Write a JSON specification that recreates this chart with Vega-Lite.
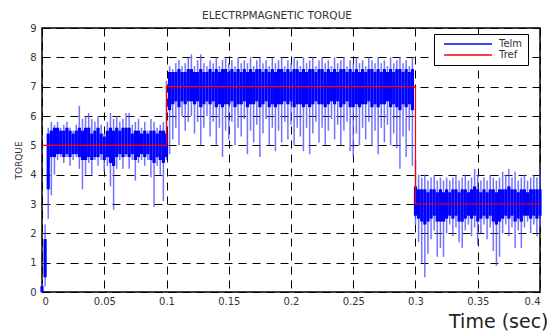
{
  "$schema": "https://vega.github.io/schema/vega-lite/v6.json",
  "width": 498,
  "height": 264,
  "autosize": "none",
  "padding": {"left": 42, "top": 28, "right": 10, "bottom": 39},
  "background": "white",
  "title": {"text": "ELECTRPMAGNETIC TORQUE", "fontSize": 10.5, "font": "DejaVu Sans", "fontWeight": "normal", "color": "#333333", "offset": 2, "anchor": "middle", "dx": -14},
  "config": {
    "view": {"stroke": "black", "strokeWidth": 1.5},
    "axis": {"labelFont": "DejaVu Sans", "labelFontSize": 10, "labelColor": "#333333", "labelOverlap": false, "ticks": false, "domain": false, "grid": true, "gridColor": "black", "gridDash": [8, 6], "gridWidth": 1, "gridOpacity": 1, "titleFontWeight": "normal", "titleColor": "#222222"},
    "legend": {"orient": "none", "legendX": 392, "legendY": 6, "strokeColor": "black", "fillColor": "white", "padding": 5, "labelFont": "DejaVu Sans", "labelFontSize": 10, "labelColor": "#333333", "symbolType": "M0,0H16", "symbolSize": 36, "symbolStrokeWidth": 1.5, "labelOffset": 50, "rowPadding": 1, "title": null}
  },
  "datasets": {
    "telm": [
      {"t":0,"lo":0,"hi":0.3,"clo":0,"chi":0.2},
      {"t":0.0025,"lo":0.2,"hi":2.3,"clo":0.5,"chi":1.8},
      {"t":0.005,"lo":2.5,"hi":5.6,"clo":3.5,"chi":5.4},
      {"t":0.0075,"lo":3.3,"hi":5.8,"clo":4.6,"chi":5.5},
      {"t":0.01,"lo":4.0,"hi":5.7,"clo":4.6,"chi":5.6},
      {"t":0.0125,"lo":4.5,"hi":5.8,"clo":4.7,"chi":5.6},
      {"t":0.015,"lo":4.6,"hi":5.6,"clo":4.7,"chi":5.5},
      {"t":0.0175,"lo":4.4,"hi":5.7,"clo":4.6,"chi":5.5},
      {"t":0.02,"lo":4.6,"hi":5.8,"clo":4.7,"chi":5.6},
      {"t":0.0225,"lo":4.3,"hi":5.6,"clo":4.6,"chi":5.5},
      {"t":0.025,"lo":4.5,"hi":5.5,"clo":4.7,"chi":5.4},
      {"t":0.0275,"lo":4.6,"hi":5.7,"clo":4.7,"chi":5.5},
      {"t":0.03,"lo":4.2,"hi":6.35,"clo":4.6,"chi":5.6},
      {"t":0.0325,"lo":3.5,"hi":5.9,"clo":4.5,"chi":5.5},
      {"t":0.035,"lo":4.0,"hi":6.0,"clo":4.5,"chi":5.6},
      {"t":0.0375,"lo":4.4,"hi":6.1,"clo":4.6,"chi":5.6},
      {"t":0.04,"lo":4.0,"hi":5.9,"clo":4.5,"chi":5.4},
      {"t":0.0425,"lo":4.5,"hi":5.8,"clo":4.6,"chi":5.5},
      {"t":0.045,"lo":4.3,"hi":6.0,"clo":4.6,"chi":5.6},
      {"t":0.0475,"lo":4.5,"hi":5.7,"clo":4.7,"chi":5.4},
      {"t":0.05,"lo":4.1,"hi":5.4,"clo":4.5,"chi":5.3},
      {"t":0.0525,"lo":4.3,"hi":5.8,"clo":4.6,"chi":5.5},
      {"t":0.055,"lo":3.6,"hi":6.1,"clo":4.4,"chi":5.6},
      {"t":0.0575,"lo":2.8,"hi":5.9,"clo":4.3,"chi":5.5},
      {"t":0.06,"lo":4.2,"hi":6.0,"clo":4.6,"chi":5.6},
      {"t":0.0625,"lo":4.5,"hi":5.8,"clo":4.7,"chi":5.5},
      {"t":0.065,"lo":4.2,"hi":5.9,"clo":4.6,"chi":5.6},
      {"t":0.0675,"lo":4.6,"hi":6.1,"clo":4.7,"chi":5.6},
      {"t":0.07,"lo":4.2,"hi":6.1,"clo":4.6,"chi":5.6},
      {"t":0.0725,"lo":4.5,"hi":5.7,"clo":4.7,"chi":5.4},
      {"t":0.075,"lo":3.8,"hi":5.8,"clo":4.5,"chi":5.5},
      {"t":0.0775,"lo":4.4,"hi":5.9,"clo":4.6,"chi":5.5},
      {"t":0.08,"lo":4.5,"hi":5.6,"clo":4.7,"chi":5.4},
      {"t":0.0825,"lo":4.3,"hi":5.8,"clo":4.6,"chi":5.5},
      {"t":0.085,"lo":4.5,"hi":5.5,"clo":4.7,"chi":5.4},
      {"t":0.0875,"lo":3.9,"hi":5.9,"clo":4.5,"chi":5.5},
      {"t":0.09,"lo":2.9,"hi":5.8,"clo":4.4,"chi":5.5},
      {"t":0.0925,"lo":4.3,"hi":5.6,"clo":4.6,"chi":5.4},
      {"t":0.095,"lo":4.0,"hi":5.7,"clo":4.5,"chi":5.5},
      {"t":0.0975,"lo":3.1,"hi":5.8,"clo":4.4,"chi":5.5},
      {"t":0.1,"lo":4.5,"hi":7.2,"clo":4.6,"chi":5.4},
      {"t":0.1025,"lo":4.7,"hi":7.7,"clo":6.2,"chi":7.5},
      {"t":0.105,"lo":5.2,"hi":7.6,"clo":6.4,"chi":7.5},
      {"t":0.1075,"lo":5.6,"hi":7.8,"clo":6.5,"chi":7.5},
      {"t":0.11,"lo":5.0,"hi":7.9,"clo":6.3,"chi":7.6},
      {"t":0.1125,"lo":6.0,"hi":7.7,"clo":6.5,"chi":7.5},
      {"t":0.115,"lo":5.5,"hi":7.8,"clo":6.4,"chi":7.5},
      {"t":0.1175,"lo":5.8,"hi":8.0,"clo":6.5,"chi":7.6},
      {"t":0.12,"lo":6.0,"hi":8.1,"clo":6.5,"chi":7.6},
      {"t":0.1225,"lo":5.4,"hi":7.7,"clo":6.4,"chi":7.5},
      {"t":0.125,"lo":5.8,"hi":7.9,"clo":6.5,"chi":7.5},
      {"t":0.1275,"lo":5.0,"hi":8.1,"clo":6.3,"chi":7.6},
      {"t":0.13,"lo":5.6,"hi":7.8,"clo":6.4,"chi":7.5},
      {"t":0.1325,"lo":6.0,"hi":7.7,"clo":6.5,"chi":7.5},
      {"t":0.135,"lo":5.3,"hi":7.9,"clo":6.4,"chi":7.6},
      {"t":0.1375,"lo":5.8,"hi":7.8,"clo":6.5,"chi":7.5},
      {"t":0.14,"lo":5.0,"hi":8.0,"clo":6.3,"chi":7.6},
      {"t":0.1425,"lo":5.6,"hi":7.7,"clo":6.4,"chi":7.5},
      {"t":0.145,"lo":4.6,"hi":7.9,"clo":6.3,"chi":7.6},
      {"t":0.1475,"lo":5.5,"hi":8.0,"clo":6.4,"chi":7.6},
      {"t":0.15,"lo":5.2,"hi":7.8,"clo":6.4,"chi":7.5},
      {"t":0.1525,"lo":5.8,"hi":7.9,"clo":6.5,"chi":7.6},
      {"t":0.155,"lo":5.0,"hi":7.7,"clo":6.3,"chi":7.5},
      {"t":0.1575,"lo":5.6,"hi":8.0,"clo":6.4,"chi":7.6},
      {"t":0.16,"lo":5.3,"hi":7.8,"clo":6.4,"chi":7.5},
      {"t":0.1625,"lo":5.9,"hi":7.9,"clo":6.5,"chi":7.6},
      {"t":0.165,"lo":4.7,"hi":7.8,"clo":6.3,"chi":7.5},
      {"t":0.1675,"lo":5.5,"hi":8.0,"clo":6.4,"chi":7.6},
      {"t":0.17,"lo":5.1,"hi":7.7,"clo":6.4,"chi":7.5},
      {"t":0.1725,"lo":5.7,"hi":7.9,"clo":6.5,"chi":7.6},
      {"t":0.175,"lo":4.6,"hi":8.0,"clo":6.3,"chi":7.6},
      {"t":0.1775,"lo":5.4,"hi":7.8,"clo":6.4,"chi":7.5},
      {"t":0.18,"lo":5.9,"hi":7.9,"clo":6.5,"chi":7.6},
      {"t":0.1825,"lo":5.0,"hi":7.7,"clo":6.3,"chi":7.5},
      {"t":0.185,"lo":5.6,"hi":8.0,"clo":6.4,"chi":7.6},
      {"t":0.1875,"lo":4.8,"hi":7.8,"clo":6.3,"chi":7.5},
      {"t":0.19,"lo":5.5,"hi":7.9,"clo":6.4,"chi":7.6},
      {"t":0.1925,"lo":5.1,"hi":8.0,"clo":6.4,"chi":7.6},
      {"t":0.195,"lo":5.8,"hi":7.7,"clo":6.5,"chi":7.5},
      {"t":0.1975,"lo":5.2,"hi":7.9,"clo":6.4,"chi":7.6},
      {"t":0.2,"lo":5.7,"hi":7.8,"clo":6.5,"chi":7.5},
      {"t":0.2025,"lo":5.0,"hi":8.0,"clo":6.3,"chi":7.6},
      {"t":0.205,"lo":5.6,"hi":7.9,"clo":6.4,"chi":7.6},
      {"t":0.2075,"lo":5.3,"hi":7.7,"clo":6.4,"chi":7.5},
      {"t":0.21,"lo":4.8,"hi":8.0,"clo":6.3,"chi":7.6},
      {"t":0.2125,"lo":5.6,"hi":7.8,"clo":6.4,"chi":7.5},
      {"t":0.215,"lo":4.7,"hi":7.9,"clo":6.3,"chi":7.6},
      {"t":0.2175,"lo":5.4,"hi":8.0,"clo":6.4,"chi":7.6},
      {"t":0.22,"lo":5.8,"hi":7.7,"clo":6.5,"chi":7.5},
      {"t":0.2225,"lo":5.1,"hi":7.9,"clo":6.4,"chi":7.6},
      {"t":0.225,"lo":5.6,"hi":8.0,"clo":6.4,"chi":7.6},
      {"t":0.2275,"lo":5.0,"hi":7.8,"clo":6.3,"chi":7.5},
      {"t":0.23,"lo":5.5,"hi":7.9,"clo":6.4,"chi":7.6},
      {"t":0.2325,"lo":5.9,"hi":7.7,"clo":6.5,"chi":7.5},
      {"t":0.235,"lo":5.2,"hi":8.0,"clo":6.4,"chi":7.6},
      {"t":0.2375,"lo":5.7,"hi":7.8,"clo":6.5,"chi":7.5},
      {"t":0.24,"lo":5.0,"hi":7.9,"clo":6.3,"chi":7.6},
      {"t":0.2425,"lo":5.5,"hi":8.0,"clo":6.4,"chi":7.6},
      {"t":0.245,"lo":5.8,"hi":7.7,"clo":6.5,"chi":7.5},
      {"t":0.2475,"lo":4.8,"hi":7.9,"clo":6.3,"chi":7.6},
      {"t":0.25,"lo":4.6,"hi":7.8,"clo":6.3,"chi":7.5},
      {"t":0.2525,"lo":5.4,"hi":8.0,"clo":6.4,"chi":7.6},
      {"t":0.255,"lo":5.0,"hi":7.8,"clo":6.3,"chi":7.5},
      {"t":0.2575,"lo":5.6,"hi":7.9,"clo":6.4,"chi":7.6},
      {"t":0.26,"lo":5.2,"hi":7.7,"clo":6.4,"chi":7.5},
      {"t":0.2625,"lo":5.8,"hi":8.0,"clo":6.5,"chi":7.6},
      {"t":0.265,"lo":5.0,"hi":7.9,"clo":6.3,"chi":7.6},
      {"t":0.2675,"lo":5.5,"hi":7.8,"clo":6.4,"chi":7.5},
      {"t":0.27,"lo":4.7,"hi":8.0,"clo":6.3,"chi":7.6},
      {"t":0.2725,"lo":5.6,"hi":7.8,"clo":6.4,"chi":7.5},
      {"t":0.275,"lo":5.1,"hi":7.9,"clo":6.4,"chi":7.6},
      {"t":0.2775,"lo":5.7,"hi":7.7,"clo":6.5,"chi":7.5},
      {"t":0.28,"lo":5.0,"hi":8.0,"clo":6.3,"chi":7.6},
      {"t":0.2825,"lo":5.4,"hi":7.8,"clo":6.4,"chi":7.5},
      {"t":0.285,"lo":4.9,"hi":7.9,"clo":6.3,"chi":7.6},
      {"t":0.2875,"lo":4.2,"hi":8.0,"clo":6.2,"chi":7.6},
      {"t":0.29,"lo":5.3,"hi":7.8,"clo":6.4,"chi":7.5},
      {"t":0.2925,"lo":4.6,"hi":7.9,"clo":6.3,"chi":7.6},
      {"t":0.295,"lo":5.5,"hi":7.7,"clo":6.4,"chi":7.5},
      {"t":0.2975,"lo":4.3,"hi":8.0,"clo":6.2,"chi":7.6},
      {"t":0.3,"lo":2.3,"hi":4.5,"clo":2.6,"chi":3.6},
      {"t":0.3025,"lo":1.7,"hi":4.0,"clo":2.5,"chi":3.5},
      {"t":0.305,"lo":1.0,"hi":3.9,"clo":2.4,"chi":3.5},
      {"t":0.3075,"lo":0.5,"hi":4.0,"clo":2.3,"chi":3.5},
      {"t":0.31,"lo":1.3,"hi":3.8,"clo":2.4,"chi":3.4},
      {"t":0.3125,"lo":1.8,"hi":3.9,"clo":2.5,"chi":3.5},
      {"t":0.315,"lo":2.1,"hi":4.0,"clo":2.6,"chi":3.5},
      {"t":0.3175,"lo":1.2,"hi":3.8,"clo":2.4,"chi":3.4},
      {"t":0.32,"lo":1.5,"hi":3.9,"clo":2.4,"chi":3.5},
      {"t":0.3225,"lo":1.2,"hi":3.8,"clo":2.4,"chi":3.4},
      {"t":0.325,"lo":2.0,"hi":3.9,"clo":2.5,"chi":3.5},
      {"t":0.3275,"lo":2.3,"hi":3.8,"clo":2.6,"chi":3.4},
      {"t":0.33,"lo":1.9,"hi":3.9,"clo":2.5,"chi":3.5},
      {"t":0.3325,"lo":2.2,"hi":4.0,"clo":2.6,"chi":3.5},
      {"t":0.335,"lo":1.7,"hi":3.8,"clo":2.4,"chi":3.4},
      {"t":0.3375,"lo":1.5,"hi":3.9,"clo":2.4,"chi":3.5},
      {"t":0.34,"lo":2.1,"hi":4.0,"clo":2.5,"chi":3.5},
      {"t":0.3425,"lo":2.3,"hi":3.8,"clo":2.6,"chi":3.4},
      {"t":0.345,"lo":1.9,"hi":3.9,"clo":2.5,"chi":3.5},
      {"t":0.3475,"lo":2.2,"hi":4.2,"clo":2.6,"chi":3.6},
      {"t":0.35,"lo":1.6,"hi":4.0,"clo":2.4,"chi":3.5},
      {"t":0.3525,"lo":2.0,"hi":3.8,"clo":2.5,"chi":3.4},
      {"t":0.355,"lo":2.3,"hi":3.9,"clo":2.6,"chi":3.5},
      {"t":0.3575,"lo":1.8,"hi":3.8,"clo":2.5,"chi":3.4},
      {"t":0.36,"lo":2.2,"hi":4.0,"clo":2.6,"chi":3.5},
      {"t":0.3625,"lo":1.4,"hi":3.9,"clo":2.4,"chi":3.5},
      {"t":0.365,"lo":0.9,"hi":3.8,"clo":2.3,"chi":3.4},
      {"t":0.3675,"lo":1.2,"hi":3.9,"clo":2.4,"chi":3.5},
      {"t":0.37,"lo":2.0,"hi":4.1,"clo":2.5,"chi":3.5},
      {"t":0.3725,"lo":2.3,"hi":4.0,"clo":2.6,"chi":3.5},
      {"t":0.375,"lo":1.9,"hi":4.2,"clo":2.5,"chi":3.6},
      {"t":0.3775,"lo":2.2,"hi":3.9,"clo":2.6,"chi":3.5},
      {"t":0.38,"lo":1.5,"hi":4.1,"clo":2.4,"chi":3.5},
      {"t":0.3825,"lo":2.1,"hi":3.8,"clo":2.5,"chi":3.4},
      {"t":0.385,"lo":1.5,"hi":3.9,"clo":2.4,"chi":3.5},
      {"t":0.3875,"lo":2.2,"hi":4.0,"clo":2.6,"chi":3.5},
      {"t":0.39,"lo":2.4,"hi":3.8,"clo":2.6,"chi":3.4},
      {"t":0.3925,"lo":2.0,"hi":3.9,"clo":2.5,"chi":3.5},
      {"t":0.395,"lo":2.3,"hi":4.0,"clo":2.6,"chi":3.5},
      {"t":0.3975,"lo":1.9,"hi":3.9,"clo":2.5,"chi":3.5},
      {"t":0.4,"lo":2.2,"hi":4.2,"clo":2.6,"chi":3.5}
    ],
    "tref": [
      {"k":1,"t":0,"v":5,"s":"Tref"},
      {"k":2,"t":0.1,"v":5,"s":"Tref"},
      {"k":3,"t":0.1,"v":7,"s":"Tref"},
      {"k":4,"t":0.3,"v":7,"s":"Tref"},
      {"k":5,"t":0.3,"v":3,"s":"Tref"},
      {"k":6,"t":0.4,"v":3,"s":"Tref"}
    ]
  },
  "encoding": {
    "x": {"field": "t", "type": "quantitative", "scale": {"domain": [0, 0.4], "nice": false, "zero": false},
          "axis": {"values": [0, 0.05, 0.1, 0.15, 0.2, 0.25, 0.3, 0.35, 0.4], "format": "~g", "labelPadding": 4, "title": "Time (sec)", "titleFont": "DejaVu Sans", "titleFontSize": 19, "titleAnchor": "end", "titleAlign": "right", "titleX": 506, "titleY": 35, "titleBaseline": "alphabetic"}}
  },
  "layer": [
    {
      "data": {"name": "telm"},
      "mark": {"type": "rule", "color": "#5050ff", "strokeWidth": 1.5, "opacity": 0.8},
      "encoding": {
        "y": {"field": "lo", "type": "quantitative", "scale": {"domain": [0, 9], "nice": false},
              "axis": {"values": [0, 1, 2, 3, 4, 5, 6, 7, 8, 9], "labelPadding": 6, "title": "TORQUE", "titleFont": "DejaVu Sans", "titleFontSize": 9, "titleColor": "#333333", "titleX": -24, "titleY": 132, "titleAlign": "center", "titleBaseline": "middle"}},
        "y2": {"field": "hi"}
      }
    },
    {
      "data": {"name": "telm"},
      "mark": {"type": "rule", "strokeWidth": 3.2},
      "encoding": {
        "y": {"field": "clo", "type": "quantitative",
              "axis": {"values": [0, 1, 2, 3, 4, 5, 6, 7, 8, 9], "labelPadding": 6, "title": "TORQUE", "titleFont": "DejaVu Sans", "titleFontSize": 9, "titleColor": "#333333", "titleX": -24, "titleY": 132, "titleAlign": "center", "titleBaseline": "middle"}},
        "y2": {"field": "chi"},
        "color": {"datum": "Telm", "type": "nominal", "scale": {"domain": ["Telm", "Tref"], "range": ["#0000ff", "#ff0000"]}}
      }
    },
    {
      "data": {"name": "tref"},
      "mark": {"type": "line", "strokeWidth": 1.2},
      "encoding": {
        "y": {"field": "v", "type": "quantitative",
              "axis": {"values": [0, 1, 2, 3, 4, 5, 6, 7, 8, 9], "labelPadding": 6, "title": "TORQUE", "titleFont": "DejaVu Sans", "titleFontSize": 9, "titleColor": "#333333", "titleX": -24, "titleY": 132, "titleAlign": "center", "titleBaseline": "middle"}},
        "order": {"field": "k"},
        "color": {"field": "s", "type": "nominal"}
      }
    }
  ]
}
